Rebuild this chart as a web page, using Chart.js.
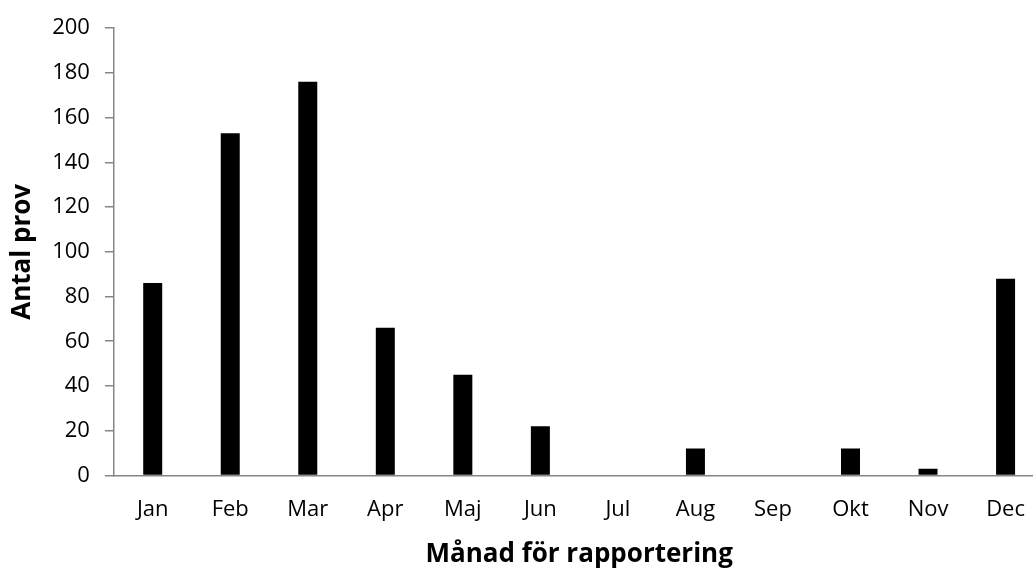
<!DOCTYPE html>
<html>
<head>
<meta charset="utf-8">
<script src="https://cdn.jsdelivr.net/npm/chart.js@4"></script>
<style>
html,body{margin:0;padding:0;background:#fff;overflow:hidden;}
#wrap{width:1033px;height:568px;overflow:hidden;position:relative;}
#box{width:1046px;height:568px;position:absolute;left:0;top:0;}
</style>
</head>
<body>
<div id="wrap"><div id="box"><canvas id="c"></canvas></div></div>
<script>
const categories = ["Jan","Feb","Mar","Apr","Maj","Jun","Jul","Aug","Sep","Okt","Nov","Dec"];
const antalProv = [86,153,176,66,45,22,0,12,0,12,3,88];
const yTitle = "Antal prov";
const xTitle = "Månad för rapportering";

const FONT = "'Open Sans', 'Liberation Sans', sans-serif";
new Chart(document.getElementById('c'), {
  type: 'bar',
  data: {
    labels: categories,
    datasets: [{
      data: antalProv,
      backgroundColor: '#000000',
      borderWidth: 0,
      barPercentage: 0.245,
      categoryPercentage: 1.0
    }]
  },
  options: {
    responsive: true,
    maintainAspectRatio: false,
    animation: false,
    layout: { padding: { top: 8, right: 0, bottom: 0, left: 7 } },
    plugins: { legend: { display: false }, tooltip: { enabled: false } },
    scales: {
      x: {
        grid: { display: false, drawTicks: false },
        border: { color: '#868686', width: 1.5 },
        ticks: { color: '#000', font: { family: FONT, size: 22 }, padding: 21, maxRotation: 0 },
        title: { display: true, text: xTitle, color: '#000', font: { family: FONT, size: 26, weight: 'bold' }, padding: { top: -5, bottom: -2 } }
      },
      y: {
        min: 0, max: 200,
        grid: { drawOnChartArea: false, drawTicks: true, tickLength: 9, color: '#868686', lineWidth: 1.5 },
        border: { color: '#868686', width: 1.5 },
        ticks: { stepSize: 20, color: '#000', font: { family: FONT, size: 22 }, padding: 15 },
        title: { display: true, text: yTitle, color: '#000', font: { family: FONT, size: 26, weight: 'bold' }, padding: { top: 0, bottom: -1 } }
      }
    }
  }
});
</script>
</body>
</html>
